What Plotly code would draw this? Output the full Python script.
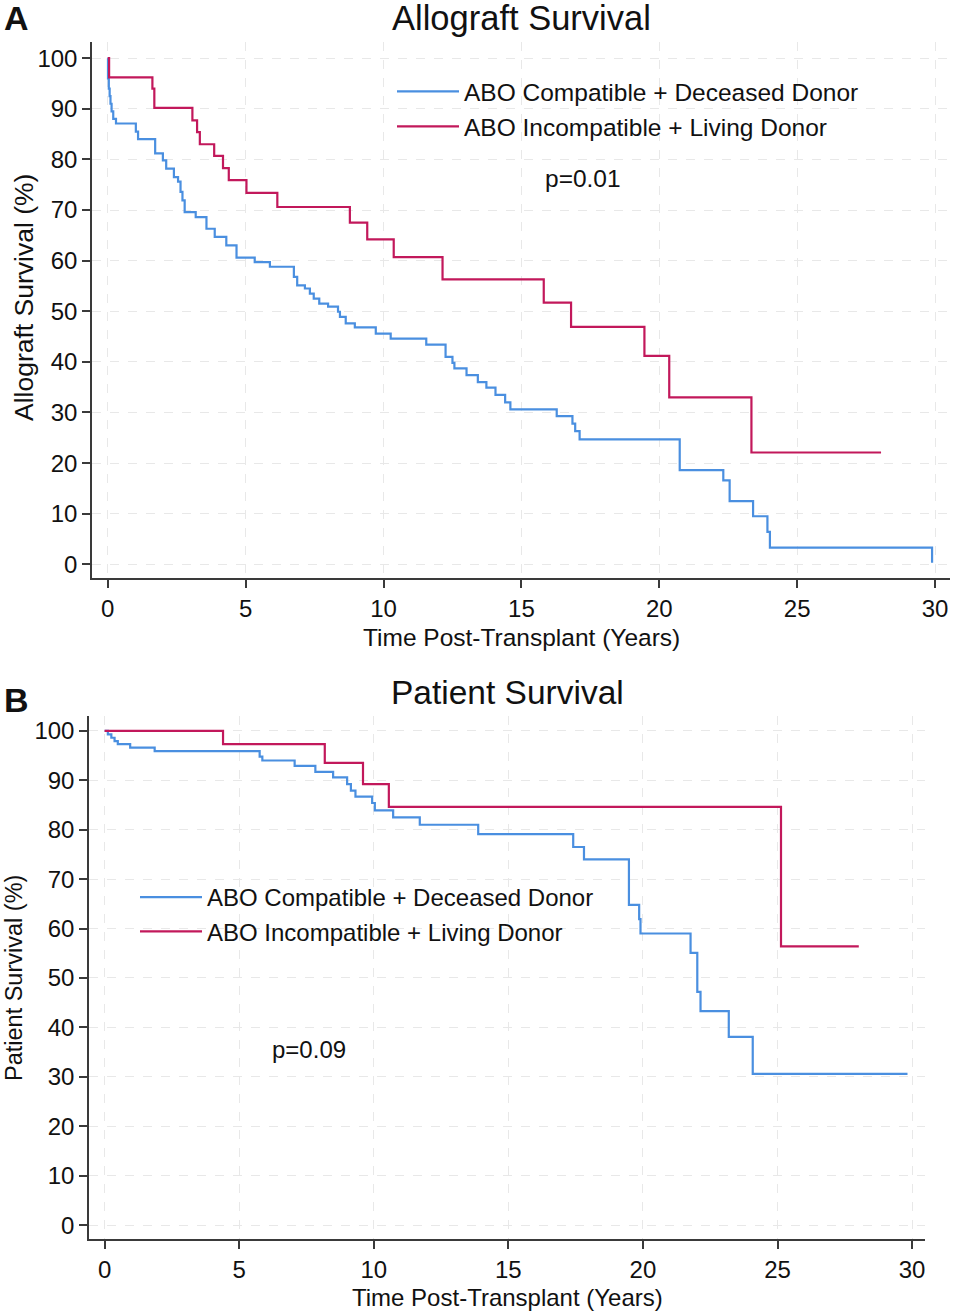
import plotly.graph_objects as go

# Kaplan-Meier curves (time in years, survival in %)
# Panel A - allograft survival
a_comp_t = [0, 0.01, 0.04, 0.07, 0.10, 0.14, 0.20, 0.30, 1.02, 1.10, 1.72, 2.00, 2.12,
            2.40, 2.55, 2.64, 2.71, 2.79, 3.19, 3.58, 3.88, 4.30, 4.67, 5.33, 5.88,
            6.75, 6.87, 7.15, 7.33, 7.47, 7.67, 7.99, 8.35, 8.42, 8.63, 8.96, 9.72,
            10.26, 11.55, 12.25, 12.50, 12.57, 13.01, 13.42, 13.73, 14.06, 14.41,
            14.60, 16.28, 16.85, 16.95, 17.11, 20.74, 22.32, 22.55, 23.40, 23.92,
            24.01, 29.89]
a_comp_s = [100, 96, 94, 92.5, 91, 89.5, 88, 87.1, 85.5, 84.0, 81.2, 79.8, 78.2,
            76.5, 75.6, 73.6, 71.9, 69.6, 68.6, 66.3, 64.7, 63.0, 60.6, 59.7, 58.8,
            56.8, 55.1, 54.5, 53.5, 52.5, 51.5, 50.9, 49.9, 48.9, 47.6, 46.8, 45.6,
            44.6, 43.4, 41.0, 39.8, 38.7, 37.4, 36.0, 34.9, 33.5, 32.0,
            30.6, 29.3, 27.8, 26.3, 24.7, 18.6, 16.6, 12.5, 9.5, 6.4,
            3.3, 0.3]
a_inc_t = [0, 0.05, 1.62, 1.69, 3.07, 3.24, 3.34, 3.86, 4.18, 4.39, 5.03, 6.15, 8.78,
           9.41, 10.37, 12.14, 15.81, 16.80, 19.46, 20.36, 23.34, 28.04]
a_inc_s = [100, 96.2, 94.0, 90.2, 87.7, 85.4, 83.0, 80.7, 78.3, 75.9, 73.4, 70.6, 67.5,
           64.2, 60.7, 56.3, 51.7, 46.9, 41.2, 33.0, 22.1, 22.1]

# Panel B - patient survival
b_comp_t = [0, 0.12, 0.25, 0.37, 0.49, 0.95, 1.86, 5.76, 5.86, 7.06, 7.83, 8.49, 9.01,
            9.15, 9.32, 9.94, 10.04, 10.72, 11.71, 13.88, 17.41, 17.81, 19.48, 19.86,
            19.91, 21.77, 22.02, 22.14, 23.19, 24.08, 29.83]
b_comp_s = [100, 99.3, 98.6, 97.9, 97.3, 96.6, 95.9, 94.8, 94.0, 92.9, 91.7, 90.6, 89.2,
            87.9, 86.7, 85.4, 83.9, 82.5, 81.0, 79.1, 76.5, 74.0, 64.8, 61.9,
            59.0, 55.1, 47.2, 43.3, 38.1, 30.6, 30.6]
b_inc_t = [0, 4.40, 8.18, 9.60, 10.56, 25.13, 28.02]
b_inc_s = [100, 97.3, 93.5, 89.2, 84.6, 56.4, 56.4]

group_names = ["ABO Compatible + Deceased Donor", "ABO Incompatible + Living Donor"]
x_ticks = [0, 5, 10, 15, 20, 25, 30]
y_ticks = list(range(0, 101, 10))

BLUE = "#4A8FE0"
RED = "#C2185B"
FONT = "Liberation Sans, Arial, Helvetica, sans-serif"
W, H = 955, 1314


def px(x):
    return x / W


def py(y):
    return 1 - y / H


fig = go.Figure()
fig.add_trace(go.Scatter(x=a_comp_t, y=a_comp_s, name=group_names[0], mode="lines",
                         line=dict(color=BLUE, width=2.2, shape="hv"),
                         xaxis="x", yaxis="y", legend="legend"))
fig.add_trace(go.Scatter(x=a_inc_t, y=a_inc_s, name=group_names[1], mode="lines",
                         line=dict(color=RED, width=2.2, shape="hv"),
                         xaxis="x", yaxis="y", legend="legend"))
fig.add_trace(go.Scatter(x=b_comp_t, y=b_comp_s, name=group_names[0], mode="lines",
                         line=dict(color=BLUE, width=2.2, shape="hv"),
                         xaxis="x2", yaxis="y2", legend="legend2"))
fig.add_trace(go.Scatter(x=b_inc_t, y=b_inc_s, name=group_names[1], mode="lines",
                         line=dict(color=RED, width=2.2, shape="hv"),
                         xaxis="x2", yaxis="y2", legend="legend2"))

axis_common = dict(showline=True, linecolor="#3a3a3a", linewidth=1.5,
                   ticks="outside", ticklen=8, tickwidth=1.5, tickcolor="#3a3a3a",
                   showgrid=True, gridcolor="#e8e8e8", griddash="dash", gridwidth=1,
                   zeroline=False, tickfont=dict(size=24, color="#111"))

fig.update_layout(
    width=W, height=H,
    margin=dict(l=0, r=0, t=0, b=0),
    paper_bgcolor="white", plot_bgcolor="white",
    font=dict(family=FONT, color="#111"),
    xaxis=dict(domain=[px(92), px(950)], range=[-0.57, 30.54], tickvals=x_ticks,
               anchor="y", **axis_common),
    yaxis=dict(domain=[py(578), py(42)], range=[-2.7, 103.2], tickvals=y_ticks,
               anchor="x", **axis_common),
    xaxis2=dict(domain=[px(89), px(925)], range=[-0.58, 30.48], tickvals=x_ticks,
                anchor="y2", **axis_common),
    yaxis2=dict(domain=[py(1239), py(716)], range=[-2.8, 103.0], tickvals=y_ticks,
                anchor="x2", **axis_common),
    legend=dict(x=px(392), y=py(69), xanchor="left", yanchor="top",
                font=dict(size=24.5), bgcolor="rgba(0,0,0,0)", itemwidth=62),
    legend2=dict(x=px(135), y=py(875), xanchor="left", yanchor="top",
                 font=dict(size=24), bgcolor="rgba(0,0,0,0)", itemwidth=62),
)

annotations = [
    dict(text="<b>A</b>", x=px(2), y=py(18), xanchor="left", yanchor="middle", font=dict(size=34)),
    dict(text="<b>B</b>", x=px(2), y=py(700), xanchor="left", yanchor="middle", font=dict(size=34)),
    dict(text="Allograft Survival", x=px(521), y=py(18), xanchor="center", yanchor="middle",
         font=dict(size=34.5)),
    dict(text="Patient Survival", x=px(508), y=py(692), xanchor="center", yanchor="middle",
         font=dict(size=33.5)),
    dict(text="Time Post-Transplant (Years)", x=px(521), y=py(637), xanchor="center",
         yanchor="middle", font=dict(size=24.5)),
    dict(text="Time Post-Transplant (Years)", x=px(508), y=py(1297), xanchor="center",
         yanchor="middle", font=dict(size=24)),
    dict(text="Allograft Survival (%)", x=px(24), y=py(298), xanchor="center",
         yanchor="middle", textangle=-90, font=dict(size=26.5)),
    dict(text="Patient Survival (%)", x=px(14), y=py(978), xanchor="center",
         yanchor="middle", textangle=-90, font=dict(size=23.5)),
    dict(text="p=0.01", x=px(583), y=py(179), xanchor="center", yanchor="middle",
         font=dict(size=24.5)),
    dict(text="p=0.09", x=px(309), y=py(1049), xanchor="center", yanchor="middle",
         font=dict(size=24)),
]
for a in annotations:
    a.update(xref="paper", yref="paper", showarrow=False)
fig.update_layout(annotations=annotations)

# drop the default 8px page margin so the figure fills the window exactly
fig.write_html("out.html", config={"displayModeBar": False},
               post_script="document.body.style.margin='0px';")
